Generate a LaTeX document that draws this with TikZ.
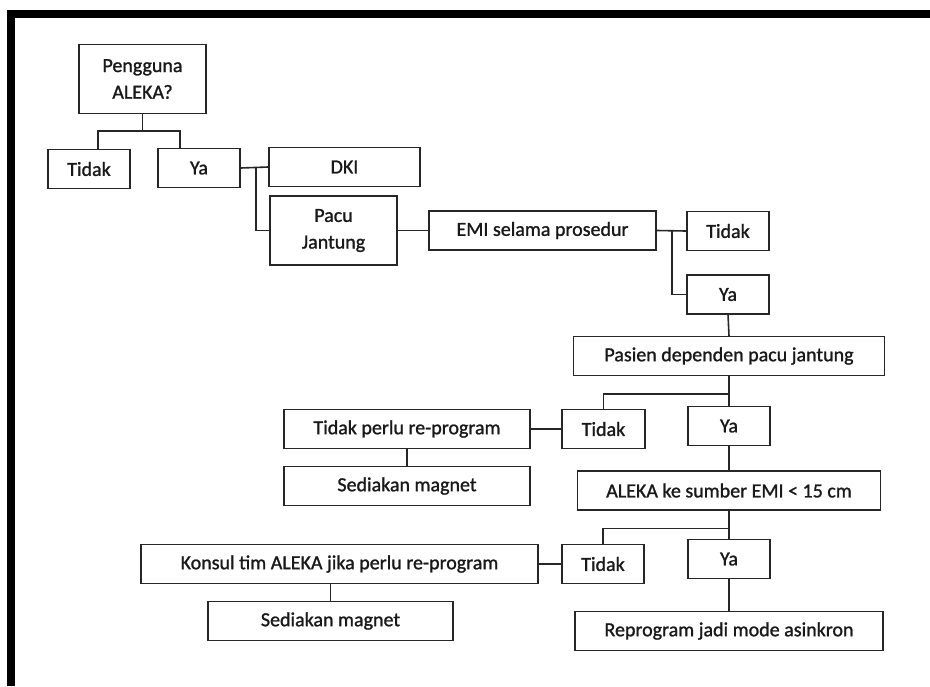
\documentclass[tikz,border=0pt]{standalone}
\usepackage{fontspec}
\setmainfont{Carlito}[RawFeature={embolden=1.2}]
\usetikzlibrary{calc}

\begin{document}
\begin{tikzpicture}[x=0.75pt, y=-0.75pt,
  font=\fontsize{15}{20}\selectfont,
  box/.style={draw=black!85, line width=1.2pt, align=center, inner sep=2pt,
              minimum width=#1, minimum height=29pt, text=black!90},
  tall/.style={minimum height=51.5pt},
  arr/.style={-, line width=1.2pt, draw=black!85}
]
  \useasboundingbox (0,0) rectangle (930,686);
  % frame
  \fill (7,10) rectangle (930,18);
  \fill (7,10) rectangle (15,686);

  \node[box=95.25pt, tall] (q1)   at (142.5, 79)  {Pengguna\\ALEKA?};
  \node[box=61.5pt]  (t1)     at (89, 169)    {Tidak};
  \node[box=61.5pt]  (y1)     at (199, 168)   {Ya};
  \node[box=113.25pt] (dki)   at (344.5, 167) {DKI};
  \node[box=95.25pt, tall] (pacu) at (333.5, 230.5) {Pacu\\Jantung};
  \node[box=170.25pt] (emi)   at (542.5, 230.5) {EMI selama prosedur};
  \node[box=61.5pt]  (t2)     at (728, 231)   {Tidak};
  \node[box=61.5pt]  (y2)     at (728, 294.5) {Ya};
  \node[box=233.25pt] (pasien) at (729, 356)  {Pasien dependen pacu jantung};
  \node[box=62.25pt] (t3)     at (603.5, 429) {Tidak};
  \node[box=61.5pt]  (y3)     at (729, 426)   {Ya};
  \node[box=184.5pt] (tpr)    at (407, 429)   {Tidak perlu re-program};
  \node[box=184.5pt] (sm1)    at (407, 486)   {Sediakan magnet};
  \node[box=227.25pt] (aleka) at (729, 490.5) {ALEKA ke sumber EMI < 15 cm};
  \node[box=61.5pt]  (t4)     at (603, 564)   {Tidak};
  \node[box=61.5pt]  (y4)     at (729, 559)   {Ya};
  \node[box=297.75pt] (konsul) at (339.5, 564) {Konsul tim ALEKA jika perlu re-program};
  \node[box=183.75pt] (sm2)   at (330.5, 621) {Sediakan magnet};
  \node[box=231pt]   (repro)  at (729, 631)   {Reprogram jadi mode asinkron};

  \coordinate (j1) at ($(q1.south)+(0,17)$);
  \coordinate (j2) at ($(pasien.south)+(0,18)$);
  \coordinate (j3) at ($(aleka.south)+(0,18)$);

  \draw[arr] (q1.south) -- (j1);
  \draw[arr] ($(t1.north)+(9,0)$) |- (j1) -| ($(y1.north)+(-19,0)$);
  \draw[arr] (y1.east) -- (dki.west);
  \draw[arr] ($(y1.east)+(15,0)$) |- (pacu.west);
  \draw[arr] (pacu.east) -- (emi.west);
  \draw[arr] (emi.east) -- (t2.west);
  \draw[arr] ($(emi.east)+(15,0)$) |- (y2.west);
  \draw[arr] (y2.south) -- (pasien.north);
  \draw[arr] (pasien.south) -- (y3.north);
  \draw[arr] (t3.north) |- (j2);
  \draw[arr] (t3.west) -- (tpr.east);
  \draw[arr] (tpr.south) -- (sm1.north);
  \draw[arr] (y3.south) -- (aleka.north);
  \draw[arr] (aleka.south) -- (y4.north);
  \draw[arr] (t4.north) |- (j3);
  \draw[arr] (t4.west) -- (konsul.east);
  \draw[arr] (sm2.north) -- (sm2.north |- konsul.south);
  \draw[arr] (y4.south) -- (repro.north);
\end{tikzpicture}
\end{document}
